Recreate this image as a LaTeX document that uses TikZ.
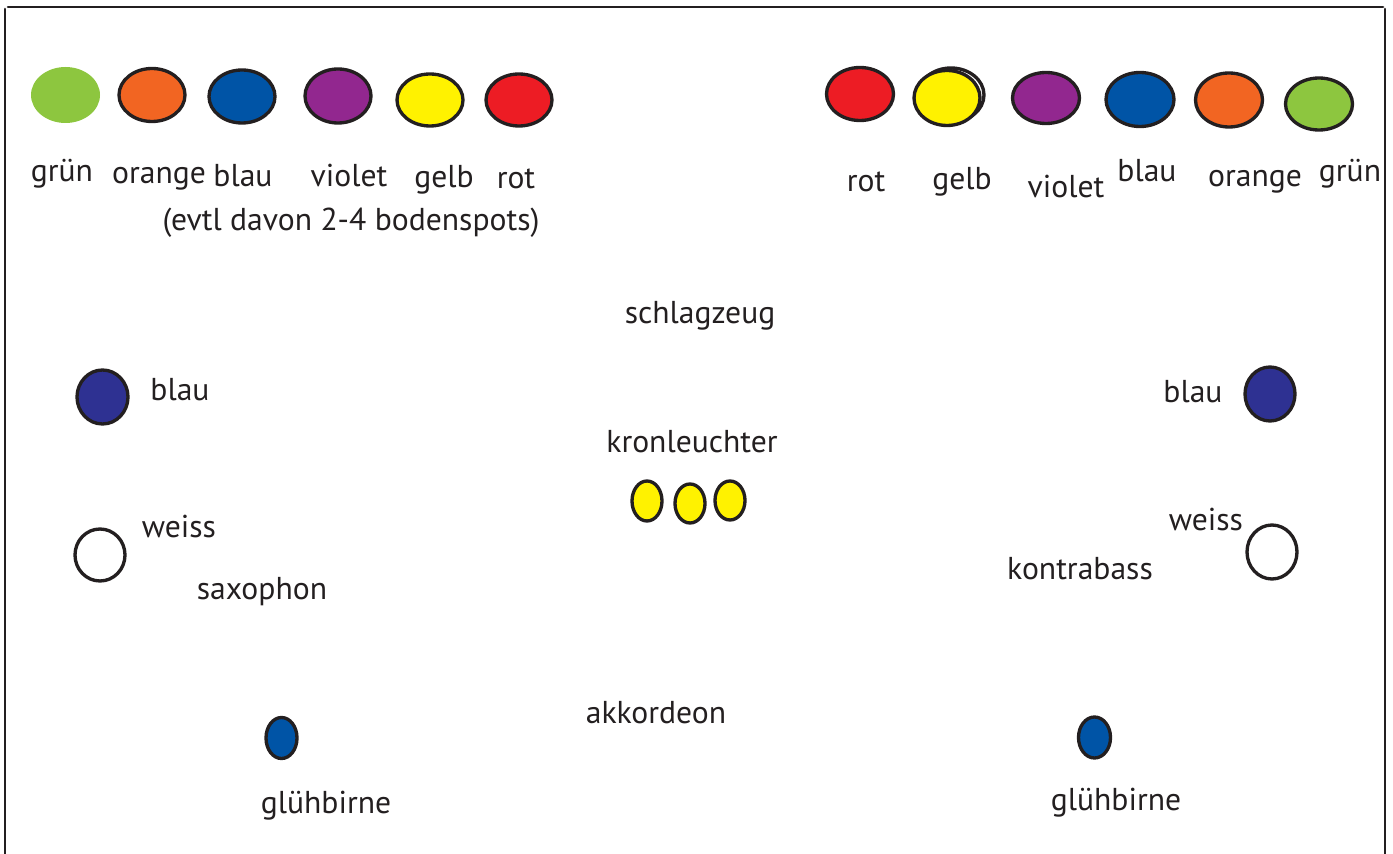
\documentclass[tikz,border=0pt]{standalone}
\usepackage{fontspec}
\setmainfont{PT Sans}
\definecolor{ink}{HTML}{231F20}
\definecolor{gruen}{HTML}{8DC63F}
\definecolor{orangeC}{HTML}{F26522}
\definecolor{blauC}{HTML}{0054A6}
\definecolor{violetC}{HTML}{92278F}
\definecolor{gelbC}{HTML}{FFF200}
\definecolor{rotC}{HTML}{ED1C24}
\definecolor{dunkelblau}{HTML}{2E3192}
\begin{document}
\begin{tikzpicture}[x=0.02cm, y=-0.02cm, line join=round, line cap=round]
  \tikzset{every node/.style={font=\fontsize{18}{20}\selectfont, text=ink, anchor=base, inner sep=0pt},
    lamp/.style={draw=ink, line width=1.9pt}}
  \useasboundingbox (0,0) rectangle (1393,854);
  % rahmen
  \draw[ink, line width=1.5pt] (8,7) -- (1383,7);
  \draw[ink, line width=1.5pt] (5,9) -- (5,854);
  \draw[ink, line width=1.5pt] (1385,9) -- (1385,854);
  % farben links
  \fill[gruen] (65.5,95) ellipse [x radius=34.5, y radius=28];
  \filldraw[lamp, fill=orangeC] (152,95) ellipse [x radius=33, y radius=26.5];
  \filldraw[lamp, fill=blauC] (242,96.5) ellipse [x radius=33, y radius=26.5];
  \filldraw[lamp, fill=violetC] (338,96) ellipse [x radius=33, y radius=27];
  \filldraw[lamp, fill=gelbC] (430,100) ellipse [x radius=33, y radius=26];
  \filldraw[lamp, fill=rotC] (519,100) ellipse [x radius=33, y radius=26];
  \node (gruenL) at (62,182) {grün};
  \node (orangeL) at (159,184) {orange};
  \node (blauL) at (243,187) {blau};
  \node (violetL) at (349,187) {violet};
  \node (gelbL) at (444,188) {gelb};
  \node (rotL) at (516,189) {rot};
  \node (hinweis) at (351,231) {(evtl davon 2-4 bodenspots)};
  % farben rechts
  \filldraw[lamp, fill=rotC] (860,94) ellipse [x radius=33.5, y radius=26.5];
  \draw[lamp, fill=white] (951,95) ellipse [x radius=33, y radius=27];
  \filldraw[lamp, fill=gelbC] (947,98) ellipse [x radius=33, y radius=27.5];
  \filldraw[lamp, fill=violetC] (1046,98) ellipse [x radius=33.5, y radius=25.5];
  \filldraw[lamp, fill=blauC] (1140,99.5) ellipse [x radius=34, y radius=27];
  \filldraw[lamp, fill=orangeC] (1229,100) ellipse [x radius=33.5, y radius=27];
  \filldraw[lamp, fill=gruen] (1319,104) ellipse [x radius=33.5, y radius=26];
  \node (rotR) at (866,192) {rot};
  \node (gelbR) at (962,190) {gelb};
  \node (violetR) at (1066,198) {violet};
  \node (blauR) at (1147,182) {blau};
  \node (orangeR) at (1255,187) {orange};
  \node (gruenR) at (1350,182) {grün};
  % buehne
  \node (schlagzeug) at (700,324) {schlagzeug};
  \filldraw[lamp, fill=dunkelblau] (102.5,397) ellipse [x radius=25.5, y radius=27];
  \node (blauSL) at (180,401) {blau};
  \draw[lamp] (100,555) ellipse [x radius=25, y radius=26];
  \node (weissSL) at (179,538) {weiss};
  \node (saxophon) at (262,600) {saxophon};
  \filldraw[lamp, fill=dunkelblau] (1270,394) ellipse [x radius=25, y radius=27];
  \node (blauSR) at (1193,403) {blau};
  \draw[lamp] (1272,552) ellipse [x radius=25, y radius=27];
  \node (weissSR) at (1206,531) {weiss};
  \node (kontrabass) at (1080,580) {kontrabass};
  \node (kronleuchter) at (692,453) {kronleuchter};
  \filldraw[lamp, fill=gelbC] (647,501) ellipse [x radius=15, y radius=20];
  \filldraw[lamp, fill=gelbC] (690,503.5) ellipse [x radius=15, y radius=19.5];
  \filldraw[lamp, fill=gelbC] (730,500.5) ellipse [x radius=15, y radius=19.5];
  \node (akkordeon) at (656,723) {akkordeon};
  \filldraw[lamp, fill=blauC] (281.5,738) ellipse [x radius=15.5, y radius=20.5];
  \node (gluehL) at (326,813) {glühbirne};
  \filldraw[lamp, fill=blauC] (1094.5,737.5) ellipse [x radius=16, y radius=20.5];
  \node (gluehR) at (1116,810) {glühbirne};
\end{tikzpicture}
\end{document}
